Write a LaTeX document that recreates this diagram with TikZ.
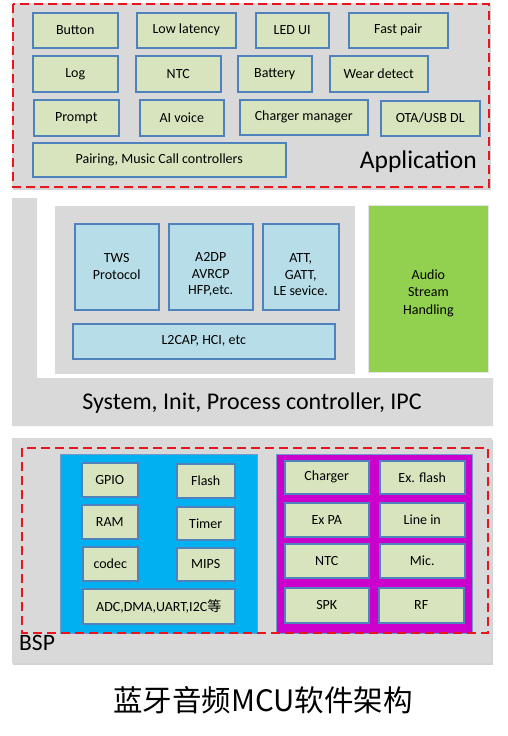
\documentclass[tikz,border=0pt]{standalone}
\usepackage{fontspec}
\setmainfont{Carlito}
\newfontfamily\cjk{Noto Sans CJK SC}
\usetikzlibrary{shadows}
\definecolor{bggray}{HTML}{D9D9D9}
\definecolor{olivebox}{HTML}{D7E4BD}
\definecolor{boxborder}{HTML}{4F81BD}
\definecolor{lightblue}{HTML}{B7DEE8}
\definecolor{greenbox}{HTML}{92D050}
\definecolor{cyanbox}{HTML}{00B0F0}
\definecolor{magbox}{HTML}{CC00CC}
\definecolor{redash}{HTML}{E8141E}
\tikzset{
  shd/.style={drop shadow={opacity=0.35,shadow xshift=1.2pt,shadow yshift=-1.5pt}},
  appbox/.style={draw=boxborder,line width=1.5pt,fill=olivebox,shd,font=\fontsize{14}{16.5}\selectfont,align=center,inner sep=0pt},
  protobox/.style={draw=boxborder,line width=1.5pt,fill=lightblue,shd,font=\fontsize{14}{16.5}\selectfont,align=center,inner sep=0pt},
  boxtext/.style={inner sep=0pt,font=\fontsize{14}{16.5}\selectfont,align=center},
  reddash/.style={draw=redash,line width=2.2pt,dash pattern=on 9pt off 5pt},
  panel/.style={fill=bggray,draw=none},
  lbl/.style={inner sep=0pt}
}
\begin{document}
\begin{tikzpicture}[x=1pt,y=-1pt]
\useasboundingbox (0,0) rectangle (507,736);
\fill[white] (0,0) rectangle (507,736);
% ---------- Application ----------
\node[panel,shd,minimum width=478,minimum height=185,anchor=north west,inner sep=0pt] (apppanel) at (12,3) {};
\draw[reddash] (13,4) rectangle (489,187);
\node[appbox,minimum width=85,minimum height=35,anchor=north west] (button) at (32,12) {Button};
\node[appbox,minimum width=99,minimum height=35,anchor=north west] (lowlat) at (136,12) {Low latency};
\node[appbox,minimum width=73,minimum height=35,anchor=north west] (ledui) at (255,12) {LED UI};
\node[appbox,minimum width=99,minimum height=35,anchor=north west] (fastpair) at (348,12) {Fast pair};
\node[appbox,minimum width=85,minimum height=36,anchor=north west] (log) at (32,55) {Log};
\node[appbox,minimum width=85,minimum height=36,anchor=north west] (ntc1) at (135,55) {NTC};
\node[appbox,minimum width=74,minimum height=36,anchor=north west] (battery) at (237,55) {Battery};
\node[appbox,minimum width=98,minimum height=36,anchor=north west] (wear) at (329,55) {Wear detect};
\node[appbox,minimum width=85,minimum height=36,anchor=north west] (prompt) at (33,99) {Prompt};
\node[appbox,minimum width=84,minimum height=36,anchor=north west] (aivoice) at (139,99) {AI voice};
\node[appbox,minimum width=128,minimum height=35,anchor=north west] (charmgr) at (239,99) {Charger manager};
\node[appbox,minimum width=99,minimum height=35,anchor=north west] (otausb) at (380,100) {OTA/USB DL};
\node[appbox,minimum width=253,minimum height=34,anchor=north west] (pairing) at (32,142) {Pairing, Music Call controllers};
\node[lbl,anchor=east,font=\fontsize{25.5}{30}\selectfont] (applbl) at (477,162) {Application};
% ---------- System ----------
\fill[bggray] (12,198) -- (37,198) -- (37,378) -- (493,378) -- (493,426) -- (12,426) -- cycle;
\node[panel,minimum width=300,minimum height=168,anchor=north west,inner sep=0pt] (stackpanel) at (55,206) {};
\node[protobox,minimum width=84,minimum height=86,anchor=north west] (tws) at (74,223) {TWS\\Protocol};
\node[protobox,minimum width=84,minimum height=86,anchor=north west] (a2dp) at (168,223) {};
\node[boxtext] (a2dptxt) at ([yshift=-8pt]a2dp.center) {A2DP\\AVRCP\\HFP,etc.};
\node[protobox,minimum width=76,minimum height=86,anchor=north west] (att) at (262,223) {};
\node[boxtext] (atttxt) at ([yshift=-8pt]att.center) {ATT,\\GATT,\\LE sevice.};
\node[protobox,minimum width=262,minimum height=35,anchor=north west] (l2cap) at (72,323) {L2CAP, HCI, etc};
\node[draw=bggray!70,line width=0.8pt,fill=greenbox,minimum width=120,minimum height=167,anchor=north west,inner sep=0pt] (audio) at (368,205) {};
\node[boxtext,font=\fontsize{14}{17.5}\selectfont] (audiotxt) at ([yshift=-4pt]audio.center) {Audio\\Stream\\Handling};
\node[lbl,font=\fontsize{24}{28}\selectfont] (syslbl) at (252,403) {System, Init, Process controller, IPC};
% ---------- BSP ----------
\node[panel,shd,minimum width=480,minimum height=225,anchor=north west,inner sep=0pt] (bsppanel) at (12,438) {};
\node[draw=boxborder!80,line width=1pt,fill=cyanbox,minimum width=197,minimum height=179,anchor=north west,inner sep=0pt] (cyanpanel) at (60,454) {};
\node[draw=boxborder!80,line width=1pt,fill=magbox,minimum width=196,minimum height=179,anchor=north west,inner sep=0pt] (magpanel) at (276,454) {};
\draw[reddash] (22,448) rectangle (488,633);
\node[appbox,minimum width=56,minimum height=34,anchor=north west] (gpio) at (81,462) {GPIO};
\node[appbox,minimum width=58,minimum height=34,anchor=north west] (flash) at (176,463) {Flash};
\node[appbox,minimum width=56,minimum height=34,anchor=north west] (ram) at (81,504) {RAM};
\node[appbox,minimum width=58,minimum height=33,anchor=north west] (timer) at (176,506) {Timer};
\node[appbox,minimum width=55,minimum height=34,anchor=north west] (codec) at (82,546) {codec};
\node[appbox,minimum width=58,minimum height=33,anchor=north west] (mips) at (176,547) {MIPS};
\node[appbox,minimum width=152,minimum height=35,anchor=north west] (adc) at (82,588) {ADC,DMA,UART,I2C{\cjk 等}};
\node[appbox,minimum width=84,minimum height=33,anchor=north west] (charger) at (284,460) {Charger};
\node[appbox,minimum width=85,minimum height=33,anchor=north west] (exflash) at (379,460) {Ex. flash};
\node[appbox,minimum width=84,minimum height=34,anchor=north west] (expa) at (284,502) {Ex PA};
\node[appbox,minimum width=85,minimum height=34,anchor=north west] (linein) at (379,502) {Line in};
\node[appbox,minimum width=84,minimum height=34,anchor=north west] (ntc2) at (284,543) {NTC};
\node[appbox,minimum width=85,minimum height=34,anchor=north west] (mic) at (379,543) {Mic.};
\node[appbox,minimum width=84,minimum height=35,anchor=north west] (spk) at (284,587) {SPK};
\node[appbox,minimum width=85,minimum height=35,anchor=north west] (rf) at (378,587) {RF};
\node[lbl,anchor=west,font=\fontsize{23.5}{27}\selectfont] (bsplbl) at (19,643) {BSP};
% ---------- Title ----------
\node[lbl,font=\cjk\fontsize{29.5}{34}\selectfont] (title) at (263,700) {蓝牙音频MCU软件架构};
\end{tikzpicture}
\end{document}
